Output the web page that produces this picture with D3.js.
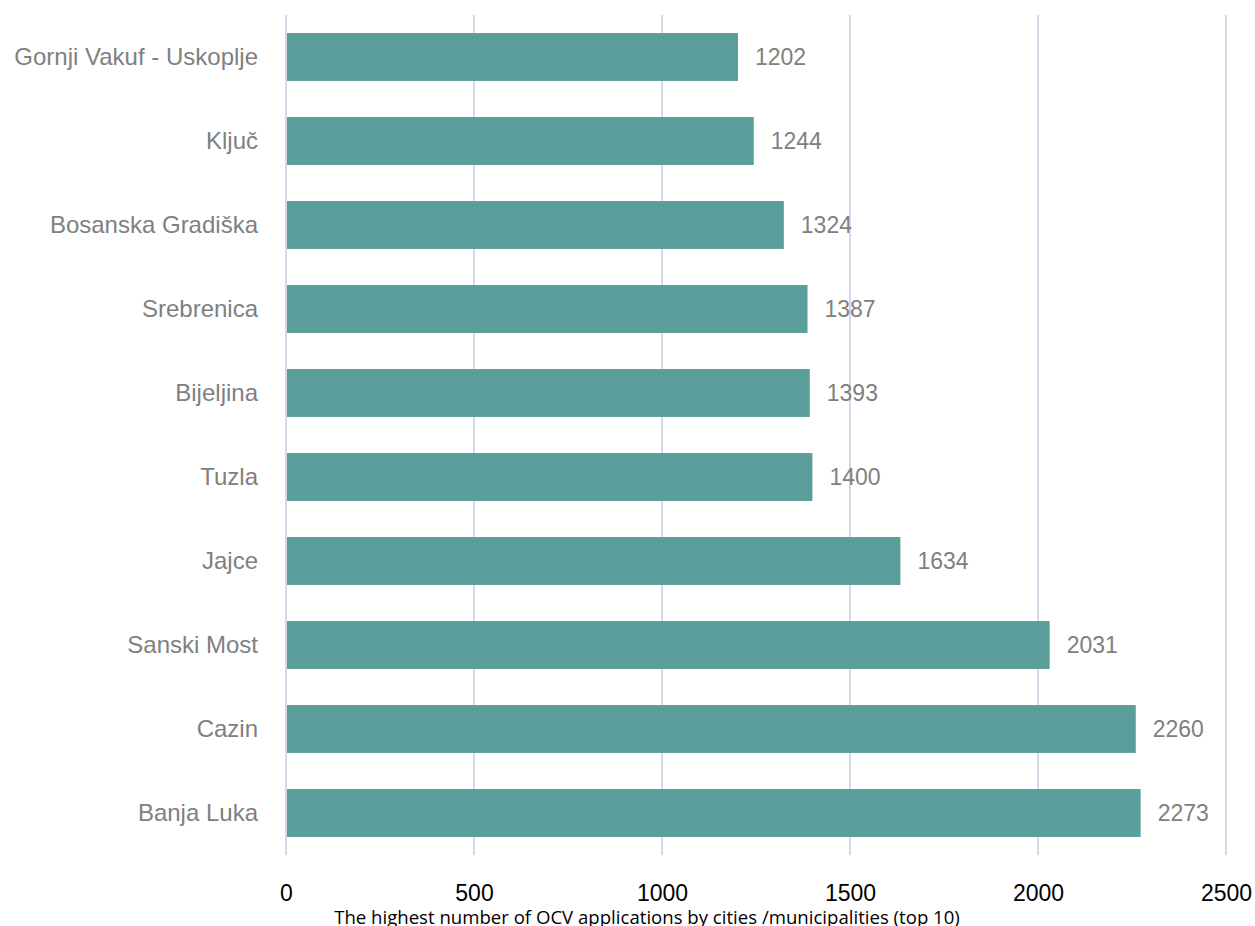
<!DOCTYPE html>
<html>
<head>
<meta charset="utf-8">
<script src="https://cdn.jsdelivr.net/npm/d3@7"></script>
<style>
  body { margin: 0; background: #fff; }
  svg { display: block; }
  .cat { font-family: "Liberation Sans", Arial, sans-serif; font-size: 24px; fill: #808080; }
  .val { font-family: "Liberation Sans", Arial, sans-serif; font-size: 23px; fill: #808080; }
  .tick text { font-family: "Liberation Sans", Arial, sans-serif; font-size: 23px; fill: #000; }
  .title { font-family: "Open Sans", "Noto Sans", sans-serif; font-size: 18.6px; fill: #000; }
</style>
</head>
<body>
<div id="chart"></div>
<script>
const cities = ['Gornji Vakuf - Uskoplje', 'Ključ', 'Bosanska Gradiška', 'Srebrenica', 'Bijeljina',
  'Tuzla', 'Jajce', 'Sanski Most', 'Cazin', 'Banja Luka'];
const applications = [1202, 1244, 1324, 1387, 1393, 1400, 1634, 2031, 2260, 2273];
const xTicks = [0, 500, 1000, 1500, 2000, 2500];
const title = 'The highest number of OCV applications by cities /municipalities (top 10)';

const width = 1255, height = 926;
const margin = { top: 15, right: 29, bottom: 71, left: 286 };

const svg = d3.select('#chart').append('svg')
  .attr('width', width)
  .attr('height', height);

const x = d3.scaleLinear()
  .domain([0, 2500])
  .range([margin.left, width - margin.right]);

const y = d3.scaleBand()
  .domain(cities)
  .range([margin.top, height - margin.bottom])
  .paddingInner(0.43)
  .paddingOuter(0.215);

// vertical gridlines
svg.append('g')
  .selectAll('line')
  .data(xTicks)
  .join('line')
  .attr('x1', d => x(d))
  .attr('x2', d => x(d))
  .attr('y1', margin.top)
  .attr('y2', height - margin.bottom)
  .attr('stroke', '#d9d6ea')
  .attr('stroke-width', 2);

const rows = cities.map((c, i) => ({ city: c, value: applications[i] }));

svg.append('g')
  .selectAll('rect')
  .data(rows)
  .join('rect')
  .attr('x', x(0) + 1)
  .attr('y', d => y(d.city))
  .attr('width', d => x(d.value) - x(0) - 1)
  .attr('height', y.bandwidth())
  .attr('fill', '#5a9e9c');

svg.append('g')
  .selectAll('text')
  .data(rows)
  .join('text')
  .attr('class', 'val')
  .attr('x', d => x(d.value) + 17)
  .attr('y', d => y(d.city) + y.bandwidth() / 2)
  .attr('dy', '0.35em')
  .text(d => d.value);

svg.append('g')
  .selectAll('text')
  .data(rows)
  .join('text')
  .attr('class', 'cat')
  .attr('text-anchor', 'end')
  .attr('x', 258)
  .attr('y', d => y(d.city) + y.bandwidth() / 2)
  .attr('dy', '0.35em')
  .text(d => d.city);

const xAxis = svg.append('g')
  .attr('transform', `translate(0, ${height - margin.bottom})`)
  .call(d3.axisBottom(x).tickValues(xTicks).tickSize(0).tickPadding(30).tickFormat(d3.format('d')));
xAxis.select('.domain').remove();

svg.append('text')
  .attr('class', 'title')
  .attr('x', 647)
  .attr('y', 924)
  .attr('text-anchor', 'middle')
  .text(title);
</script>
</body>
</html>
